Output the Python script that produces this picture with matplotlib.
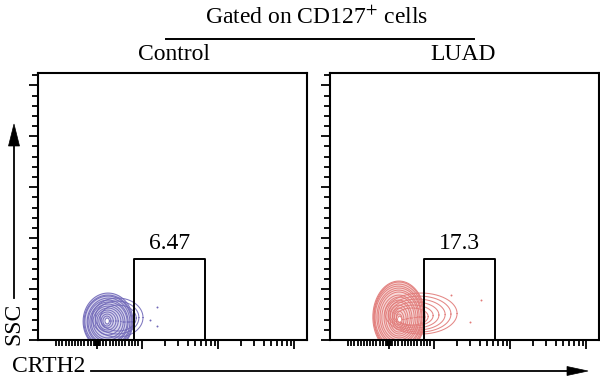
import numpy as np
import matplotlib
matplotlib.use('Agg')
import matplotlib.pyplot as plt
from matplotlib.patches import Polygon

plt.rcParams['font.family'] = ['Liberation Serif', 'DejaVu Serif']
plt.rcParams['mathtext.fontset'] = 'stix'

# ---------------- data ----------------
title = 'Gated on CD127$^{+}$ cells'
panel_names = ['Control', 'LUAD']
gate_pct = ['6.47', '17.3']
x_label = 'CRTH2'
y_label = 'SSC'

x_limits = (-153, 14600)          # CRTH2 (logicle-like axis)
y_limits = (0, 262144)            # SSC (linear)

x_major = [0, 100, 1000, 10000]
x_minor_lin = [-91, -84, -77, -70, -63, -56, -49, -42, -35, -28, -21, -14, -7,
               -4.5, -3, -1.5, 1.5, 3, 4.5,
               7, 14, 21, 28, 35, 42, 49, 56, 63, 70, 77, 84, 91]
x_minor_log = [200, 300, 400, 500, 600, 700, 800, 900,
               2000, 3000, 4000, 5000, 6000, 7000, 8000, 9000]
y_major = [0, 50000, 100000, 150000, 200000, 250000]
y_minor = [10000, 20000, 30000, 40000, 60000, 70000, 80000, 90000,
           110000, 120000, 130000, 140000, 160000, 170000, 180000, 190000,
           210000, 220000, 230000, 240000, 260000]

gate_x = [(82, 673), (78, 635)]
gate_y = [(0, 79400), (0, 79400)]

# contour rings (CRTH2 low/high, SSC low/high)
ctrl_ring_xlo = [-31, -29, -27, -22, -20, -16, -13, -9, -4, 0, 4, 9, 13, 18, -11, -4, 7]
ctrl_ring_xhi = [80, 78, 76, 73, 69, 67, 62, 58, 53, 47, 42, 36, 31, 27, 103, 93, 87]
ctrl_ring_ylo = [-9800, -8800, -6900, -5900, -3900, -2000, 0, 2000, 4900, 7800, 9800,
                 11800, 13700, 15700, 2900, 5900, 8800]
ctrl_ring_yhi = [46100, 44100, 43100, 41200, 39200, 37300, 35300, 33300, 31400, 29400,
                 27500, 25500, 23500, 21600, 41200, 38200, 34300]
ctrl_core = (19, 26, 16500, 20800)
ctrl_dots_x = [158, 127, 158]
ctrl_dots_y = [32400, 19600, 13700]

luad_ring_xlo = [-36, -34, -33, -31, -27, -24, -20, -16, -11, -7, -2, 2, 7, 11, 16, 20,
                 -9, -2, 2, 7, 11, 16]
luad_ring_xhi = [80, 78, 76, 73, 71, 67, 64, 60, 56, 51, 47, 42, 38, 33, 29, 27,
                 201, 167, 140, 116, 98, 87]
luad_ring_ylo = [-12800, -11800, -9800, -7800, -5900, -3900, -2000, 0, 2000, 3900, 5900,
                 7800, 9800, 11800, 14700, 17600, 5900, 7800, 9800, 11800, 13700, 14700]
luad_ring_yhi = [57900, 56900, 54900, 52900, 51000, 49000, 47100, 44100, 42200, 39200,
                 37300, 34300, 31400, 28400, 25500, 23500, 46100, 43100, 40200, 37300,
                 34300, 31400]
luad_core = (20, 27, 18000, 22500)
luad_dots_x = [167, 416, 298]
luad_dots_y = [44100, 39200, 17600]

ctrl_color = '#7068b8'
ctrl_fill = '#b3addd'
luad_color = '#e17a78'
luad_fill = '#f0b4b2'

# ---------------- figure ----------------
fig = plt.figure(figsize=(6.0, 3.86), dpi=100)

# overlay in pixel coordinates for titles / axis arrows
ov = fig.add_axes([0, 0, 1, 1])
ov.set_xlim(0, 600)
ov.set_ylim(386, 0)
ov.axis('off')

ov.text(317, 18, title, ha='center', va='center', fontsize=17)
ov.plot([166, 474], [38.5, 38.5], color='black', lw=1.4)
ov.text(174, 55, panel_names[0], ha='center', va='center', fontsize=17)
ov.text(463, 55, panel_names[1], ha='center', va='center', fontsize=17)

# x-axis label and arrow
ov.text(12, 366, x_label, ha='left', va='center', fontsize=17)
ov.plot([91, 572], [371, 371], color='black', lw=1.3)
ov.add_patch(Polygon([[588, 371], [567, 366.5], [567, 375.5]], closed=True,
                     facecolor='black', edgecolor='black', lw=0.5))
# y-axis label and arrow
ov.text(14, 324, y_label, ha='center', va='center', rotation=90, fontsize=17)
ov.plot([14, 14], [298, 140], color='black', lw=1.3)
ov.add_patch(Polygon([[14, 124], [8.5, 146], [19.5, 146]], closed=True,
                     facecolor='black', edgecolor='black', lw=0.5))

ax_rects = [[38 / 600, 46 / 386, 268.5 / 600, 267 / 386],
            [330 / 600, 46 / 386, 268.5 / 600, 267 / 386]]


def draw_ring(ax, xlo, xhi, ylo, yhi):
    tx = ax.xaxis.get_transform()
    a, b = tx.transform(np.array([xlo, xhi], dtype=float))
    t = np.linspace(0, 2 * np.pi, 240)
    cx, rx = (a + b) / 2, (b - a) / 2
    cy, ry = (ylo + yhi) / 2, (yhi - ylo) / 2
    xs = tx.inverted().transform(cx + rx * np.cos(t))
    ys = cy + ry * np.sin(t)
    return xs, ys


sets = [
    (ctrl_ring_xlo, ctrl_ring_xhi, ctrl_ring_ylo, ctrl_ring_yhi, ctrl_core,
     ctrl_dots_x, ctrl_dots_y, ctrl_color, ctrl_fill),
    (luad_ring_xlo, luad_ring_xhi, luad_ring_ylo, luad_ring_yhi, luad_core,
     luad_dots_x, luad_dots_y, luad_color, luad_fill),
]

for i in range(2):
    ax = fig.add_axes(ax_rects[i])
    ax.set_xscale('symlog', linthresh=100, linscale=0.533)
    ax.set_xlim(*x_limits)
    ax.set_ylim(*y_limits)
    for sp in ax.spines.values():
        sp.set_linewidth(1.5)
    ax.set_xticks(x_major)
    ax.set_xticks(x_minor_lin + x_minor_log, minor=True)
    ax.set_yticks(y_major)
    ax.set_yticks(y_minor, minor=True)
    ax.tick_params(which='major', length=6.5, width=1.3, direction='out',
                   labelbottom=False, labelleft=False)
    ax.tick_params(which='minor', length=4.0, width=1.3, direction='out')

    xlo, xhi, ylo, yhi, core, dx, dy, col, fcol = sets[i]
    # light fill under the outermost contour (blob)
    xs, ys = draw_ring(ax, xlo[0], xhi[0], ylo[0], yhi[0])
    ax.fill(xs, ys, color=fcol, alpha=0.5, lw=0, zorder=1)
    for j in range(len(xlo)):
        xs, ys = draw_ring(ax, xlo[j], xhi[j], ylo[j], yhi[j])
        ax.plot(xs, ys, color=col, lw=0.75, alpha=0.9, zorder=2)
    xs, ys = draw_ring(ax, *core)
    ax.fill(xs, ys, color='white', lw=0, zorder=3)
    ax.plot(dx, dy, linestyle='none', marker='o', ms=1.4, color=col, mec='none', zorder=2)

    # gate
    gx0, gx1 = gate_x[i]
    gy0, gy1 = gate_y[i]
    ax.plot([gx0, gx0, gx1, gx1], [gy0, gy1, gy1, gy0], color='black', lw=1.4,
            zorder=4, clip_on=False)
    tx = ax.xaxis.get_transform()
    mid = tx.inverted().transform(np.array([tx.transform(np.array([gx0, gx1], dtype=float)).mean()]))[0]
    ax.annotate(gate_pct[i], xy=(mid, gy1), xytext=(0, 7), textcoords='offset points',
                ha='center', va='baseline', fontsize=17)

fig.savefig('out.png', dpi=100)
